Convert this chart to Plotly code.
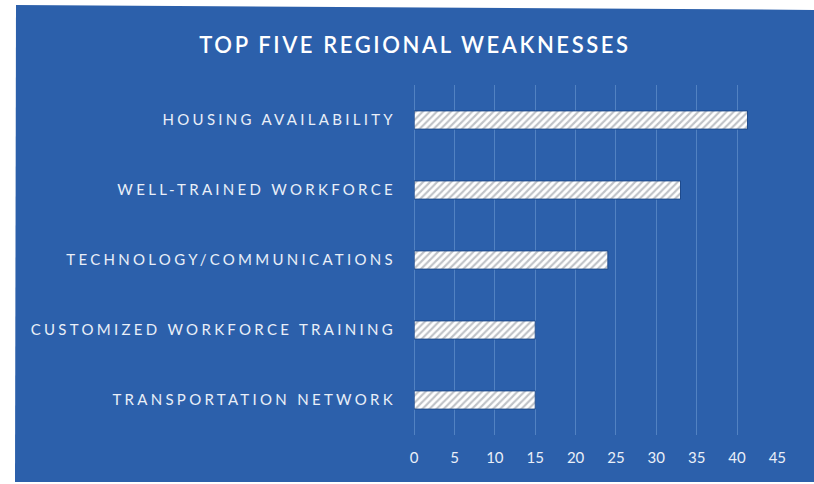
import plotly.graph_objects as go

categories = [
    "HOUSING AVAILABILITY",
    "WELL-TRAINED WORKFORCE",
    "TECHNOLOGY/COMMUNICATIONS",
    "CUSTOMIZED WORKFORCE TRAINING",
    "TRANSPORTATION NETWORK",
]
values = [41.3, 33, 24, 15, 15]
x_ticks = [0, 5, 10, 15, 20, 25, 30, 35, 40, 45]
title_text = "TOP FIVE REGIONAL WEAKNESSES"

BLUE = "#2C60AB"
GRID = "#5282C2"
TEXT = "#E9EFF8"

W, H = 814, 484
PL, PR, PT, PB = 414, 778, 85, 435
PW, PH = PR - PL, PB - PT


def px(x):
    return (x - PL) / PW


def py(y):
    return 1 - (y - PT) / PH


fig = go.Figure()
fig.add_trace(go.Bar(
    y=categories,
    x=values,
    orientation="h",
    marker=dict(
        color="white",
        line=dict(color="#1E4A8C", width=1),
        pattern=dict(shape="/", fgcolor="#7F868F", bgcolor="white", size=5, solidity=0.42),
    ),
    width=0.26,
    hoverinfo="skip",
))

ticktext = ['<span style="letter-spacing:3.3px">%s</span>' % c for c in categories]

fig.update_layout(
    width=W,
    height=H,
    margin=dict(l=PL, r=W - PR, t=PT, b=H - PB),
    paper_bgcolor="white",
    plot_bgcolor=BLUE,
    showlegend=False,
    title=dict(
        text='<span style="letter-spacing:2.6px">%s</span>' % title_text,
        x=415 / W, xref="container", xanchor="center",
        y=1 - 45 / H, yref="container", yanchor="middle",
        font=dict(family="Lato", size=22, color="white", weight=600),
    ),
    xaxis=dict(
        range=[-0.02, 45.08],
        tickvals=x_ticks,
        ticktext=[str(v) for v in x_ticks],
        showgrid=True,
        gridcolor=GRID,
        gridwidth=1,
        zeroline=True,
        zerolinecolor=GRID,
        zerolinewidth=1,
        showline=False,
        ticks="",
        tickfont=dict(family="Lato", size=15, color=TEXT),
        ticklabelstandoff=12,
    ),
    yaxis=dict(
        categoryorder="array",
        categoryarray=categories[::-1],
        tickvals=categories,
        ticktext=ticktext,
        showgrid=False,
        zeroline=False,
        showline=False,
        ticks="",
        tickfont=dict(family="Lato", size=15, color=TEXT),
        ticklabelstandoff=17,
    ),
    shapes=[
        dict(
            type="path", xref="paper", yref="paper", layer="below",
            path="M %f %f L %f %f L %f %f L %f %f Z" % (
                px(16), py(5),
                px(830), py(10),
                px(830), py(482),
                px(15), py(482),
            ),
            fillcolor=BLUE, line=dict(width=0),
        )
    ],
)

fig.write_html(
    "out.html",
    config={"displayModeBar": False},
    post_script="document.body.style.margin='0';document.body.style.overflow='hidden';",
)
